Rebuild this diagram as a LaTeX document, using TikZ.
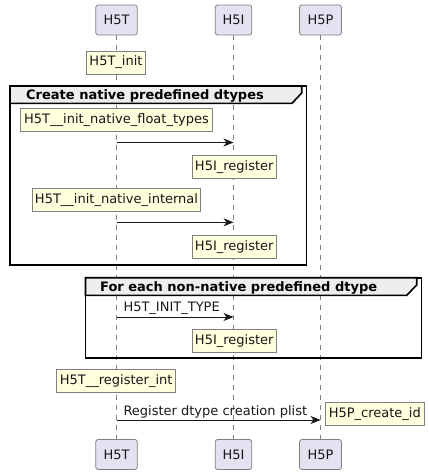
\documentclass[tikz,border=0pt]{standalone}
\usepackage{fontspec}
\setmainfont{DejaVu Sans}
\usetikzlibrary{arrows.meta}
\definecolor{partfill}{HTML}{E2E2F0}
\definecolor{ink}{HTML}{181818}
\definecolor{edge}{HTML}{808080}
\definecolor{notefill}{HTML}{FEFFDD}
\definecolor{headfill}{HTML}{EEEEEE}
\tikzset{
  participant/.style={draw=edge, line width=0.8pt, fill=partfill, rounded corners=2.5pt,
    minimum height=30pt, inner sep=0pt, font=\fontsize{13}{15}\selectfont, text=ink},
  notebox/.style={draw=edge, line width=0.8pt, fill=notefill, minimum height=23pt,
    inner sep=0pt, font=\fontsize{13}{15}\selectfont, text=ink},
  lifeline/.style={draw=edge, line width=0.8pt, dash pattern=on 5pt off 5pt},
  msg/.style={draw=ink, line width=0.9pt, -{Stealth[length=10pt,width=8pt,inset=3pt]}},
  msglabel/.style={anchor=base west, inner sep=0pt, font=\fontsize{13}{15}\selectfont, text=ink},
  frame/.style={draw=black, line width=1.6pt},
  headerfill/.style={fill=headfill, draw=black, line width=1.6pt},
  grouptitle/.style={anchor=base west, inner sep=0pt, font=\fontsize{13}{15}\selectfont\bfseries, text=black},
}
\begin{document}
\begin{tikzpicture}[x=1pt,y=-1pt]
\useasboundingbox (0,0) rectangle (429,475);
% participants
\node[participant, minimum width=41.5pt] (tT) at (116.5,20) {H5T};
\node[participant, minimum width=36.5pt] (tI) at (233.5,20) {H5I};
\node[participant, minimum width=42pt] (tP) at (320.5,20) {H5P};
\node[participant, minimum width=41.5pt] (bT) at (116.5,454.5) {H5T};
\node[participant, minimum width=36.5pt] (bI) at (233.5,454.5) {H5I};
\node[participant, minimum width=42pt] (bP) at (320.5,454.5) {H5P};
% lifelines
\draw[lifeline] (tT.south) -- (bT.north);
\draw[lifeline] (tI.south) -- (bI.north);
\draw[lifeline] (tP.south) -- (bP.north);
% group 1
\draw[frame] (10,86) rectangle (306.5,265);
\filldraw[headerfill] (10,86) -- (301.7,86) -- (301.7,93) -- (292,103.3) -- (10,103.3) -- cycle;
\node[grouptitle] (g1) at (26,99.3) {Create native predefined dtypes};
% group 2
\draw[frame] (85.5,277.7) rectangle (421.5,357.7);
\filldraw[headerfill] (85.5,277.7) -- (416.7,277.7) -- (416.7,285) -- (406.7,295.3) -- (85.5,295.3) -- cycle;
\node[grouptitle] (g2) at (100,291) {For each non-native predefined dtype};
% notes
\node[notebox, minimum width=59pt] (n1) at (116,62.5) {H5T\_init};
\node[notebox, minimum width=192pt, minimum height=23.5pt] (n2) at (116.5,119.75) {H5T\_\_init\_native\_float\_types};
\node[notebox, minimum width=83.5pt, minimum height=22.5pt] (n3) at (234.25,166.75) {H5I\_register};
\node[notebox, minimum width=168pt, minimum height=23.3pt] (n4) at (116.5,199.7) {H5T\_\_init\_native\_internal};
\node[notebox, minimum width=83.5pt, minimum height=22.7pt] (n5) at (234.25,246.7) {H5I\_register};
\node[notebox, minimum width=83.5pt] (n6) at (234.25,340.8) {H5I\_register};
\node[notebox, minimum width=119pt, minimum height=23.3pt] (n7) at (116.2,380.7) {H5T\_\_register\_int};
\node[notebox, minimum width=99pt] (n8) at (374.8,413.8) {H5P\_create\_id};
% messages
\coordinate (m1s) at (116.5,142.5); \coordinate (m1e) at (233.5,142.5);
\draw[msg] (m1s) -- (m1e);
\coordinate (m2s) at (116.5,222.3); \coordinate (m2e) at (233.5,222.3);
\draw[msg] (m2s) -- (m2e);
\coordinate (m3s) at (116.5,317); \coordinate (m3e) at (233.5,317);
\draw[msg] (m3s) -- (m3e);
\node[msglabel] (l3) at (123.3,311) {H5T\_INIT\_TYPE};
\coordinate (m4s) at (116.5,420); \coordinate (m4e) at (320.5,420);
\draw[msg] (m4s) -- (m4e);
\node[msglabel] (l4) at (123.3,415.6) {Register dtype creation plist};
\end{tikzpicture}
\end{document}
